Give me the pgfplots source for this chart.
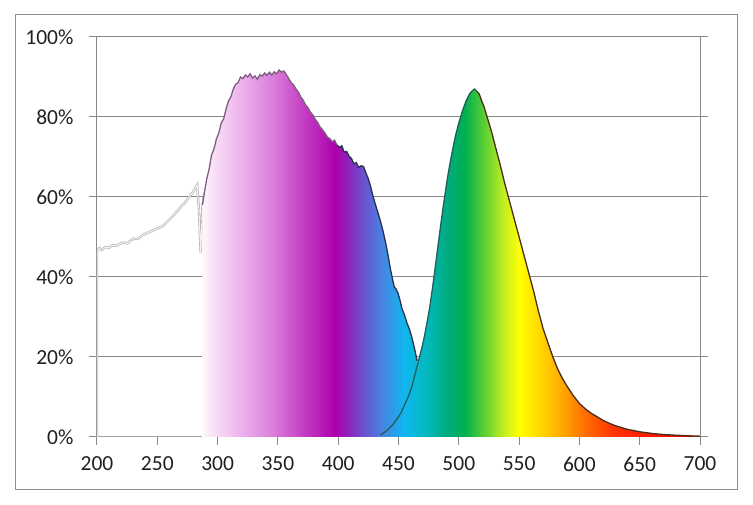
\documentclass[border=0pt]{standalone}
\usepackage{fontspec}
\setmainfont{Carlito}
\usepackage{pgfplots}
\usepackage{pgfplotstable}
\pgfplotsset{compat=1.18}

\definecolor{axgray}{HTML}{888888}
\definecolor{framegray}{HTML}{8C8C8C}
\definecolor{vtop}{HTML}{7E5F80}
\definecolor{vside}{HTML}{2A3050}
\definecolor{gleft}{HTML}{1F5F55}
\definecolor{gright}{HTML}{4A2E18}

% wavelength 200 -> 25bp, 700 -> 75bp
\pgfdeclarehorizontalshading{spectrum}{100bp}{
  rgb(0bp)=(1,1,1); rgb(25bp)=(1,1,1); rgb(33.5bp)=(1,1,1);
  rgb(34.5bp)=(0.98,0.89,0.97); rgb(37bp)=(0.93,0.69,0.93);
  rgb(39.5bp)=(0.86,0.50,0.86); rgb(42bp)=(0.77,0.25,0.77);
  rgb(44.8bp)=(0.67,0,0.67); rgb(46.5bp)=(0.48,0.24,0.78);
  rgb(48.5bp)=(0.29,0.50,0.88); rgb(50.5bp)=(0.06,0.72,0.94);
  rgb(52.5bp)=(0,0.72,0.72); rgb(54bp)=(0,0.67,0.50);
  rgb(55.5bp)=(0,0.69,0.31); rgb(57.2bp)=(0.38,0.82,0.19);
  rgb(58.8bp)=(0.78,0.94,0.13); rgb(60bp)=(1,1,0);
  rgb(62bp)=(1,0.82,0); rgb(63.8bp)=(1,0.63,0);
  rgb(65.8bp)=(1,0.39,0); rgb(68bp)=(1,0.19,0);
  rgb(71bp)=(1,0.09,0); rgb(75bp)=(0.94,0,0); rgb(100bp)=(0.94,0,0)}

% upper (UV/violet) spectrum, with baseline anchors at 200 and 700
\pgfplotstableread{
x y
200 0
287 0
287.5 58
289 61
291 64.5
293 67
295 70.5
297 72
299 74.5
301 76
303 78.5
305 79.5
307 82
309 84
311 85
313 87
315 88.2
317 88.6
319 90
321 89.6
323 90.5
325 90
327 90.8
329 89.7
331 90.3
333 89.4
335 90.6
337 90.2
339 91
341 90.4
343 91.2
345 90.5
347 91.3
349 90.8
351 91.8
353 91.2
355 91.5
357 90.6
359 89.6
361 88.6
363 88
365 87
367 86.2
369 85
371 84.2
373 83
375 82.3
377 81.2
379 80.5
381 79.4
383 78.6
385 77.5
387 76.8
389 76
391 75
393 74.6
395 73.8
397 74.2
399 73
401 72.4
403 72.8
405 71.2
407 71.4
409 70.2
411 69.6
413 68.3
415 68.6
417 67.4
419 67.8
421 67.6
423 66
425 64.5
427 62.5
429 60
431 58
433 56
435 54
437 51.7
439 49
441 46
443 42.5
445 39.5
446.5 37.5
448 37
449.5 36
451 34.5
453 32
455 30.5
457 28.5
459 27
461 25
463 22.5
465.5 19
468 0
700 0
}\violettab

% green peak
\pgfplotstableread{
x y
200 0
430 0
435 0.5
440 1.5
445 3
448 4.2
452 6
455 8
458 10
461 12.5
464 16
467 19.5
470 23
473 27.5
476 32.6
479 39
482 46
485 53
488 59.5
491 65.5
494 70.5
497 75
500 78.5
503 81.5
506 84
509 85.8
511 86.5
513 87
515 86.4
517 85.7
519 84
521 82.5
524 79.5
527 76.5
530 73
534 68.4
538 63.5
542 59
546 54.5
550 50
554 45.5
558 41
562 36.5
566 31.5
570 27
574 23.5
578 20
582 17
586 14.6
590 12.6
595 10.3
600 8.4
605 7
610 5.9
615 5
620 4.1
625 3.4
630 2.8
640 1.9
650 1.3
660 0.9
670 0.6
680 0.45
690 0.3
700 0.2
700 0
}\greentab

% grey part below 290 nm
\pgfplotstableread{
x y
200 0
200 46.5
202 47.2
204 46.8
207 47.5
210 47.3
213 48
216 47.8
219 48.3
222 48.6
225 48.4
228 49.2
231 49.6
234 49.5
237 50.3
240 50.8
243 51.2
246 51.6
249 52
252 52.4
255 52.8
258 53.8
261 54.6
264 55.6
267 56.6
270 57.7
273 58.6
276 59.8
279 61
281 62
283 63
284.5 57
286 46
287.5 58
289 61
}\greytab

\begin{document}
\begin{tikzpicture}[x=1pt,y=1pt]
\path (0,0) rectangle (753,505);
\draw[framegray, line width=1pt] (15,15) rectangle (737,490);
\begin{axis}[
    at={(97pt,68pt)}, anchor=south west,
    scale only axis, width=603pt, height=400pt,
    xmin=200, xmax=700, ymin=0, ymax=100,
    xtick={200,250,...,700}, ytick={0,20,...,100},
    xtick pos=bottom, ytick pos=both, yticklabel pos=left,
    tick align=outside, major tick length=8pt,
    axis line style={axgray, line width=1pt},
    every tick/.style={axgray, line width=1pt},
    ymajorgrids, grid style={axgray, line width=1pt},
    yticklabel={\pgfmathprintnumber{\tick}\%},
    /pgf/number format/assume math mode=true,
    ticklabel style={font=\fontsize{21.5}{25}\selectfont, text=black!88},
    yticklabel style={xshift=-12pt},
    xticklabel style={yshift=-8.5pt},
    no markers,
]
\addplot[draw=gray!65, line width=0.6pt, double=white!90!gray, double distance=1.1pt] table {\greytab};
\addplot[draw=none, shade, shading=spectrum] table {\violettab};
\addplot[draw=none, shade, shading=spectrum] table {\greentab};
\addplot[vtop, line width=1.3pt, restrict x to domain=287:399, restrict y to domain=0.05:100] table {\violettab};
\addplot[vside, line width=1.3pt, restrict x to domain=399:470, restrict y to domain=0.05:100] table {\violettab};
\addplot[gleft, line width=1.3pt, restrict x to domain=420:515, restrict y to domain=0.05:100] table {\greentab};
\addplot[gright, line width=1.3pt, restrict x to domain=515:700, restrict y to domain=0.05:100] table {\greentab};
\end{axis}
\end{tikzpicture}
\end{document}
